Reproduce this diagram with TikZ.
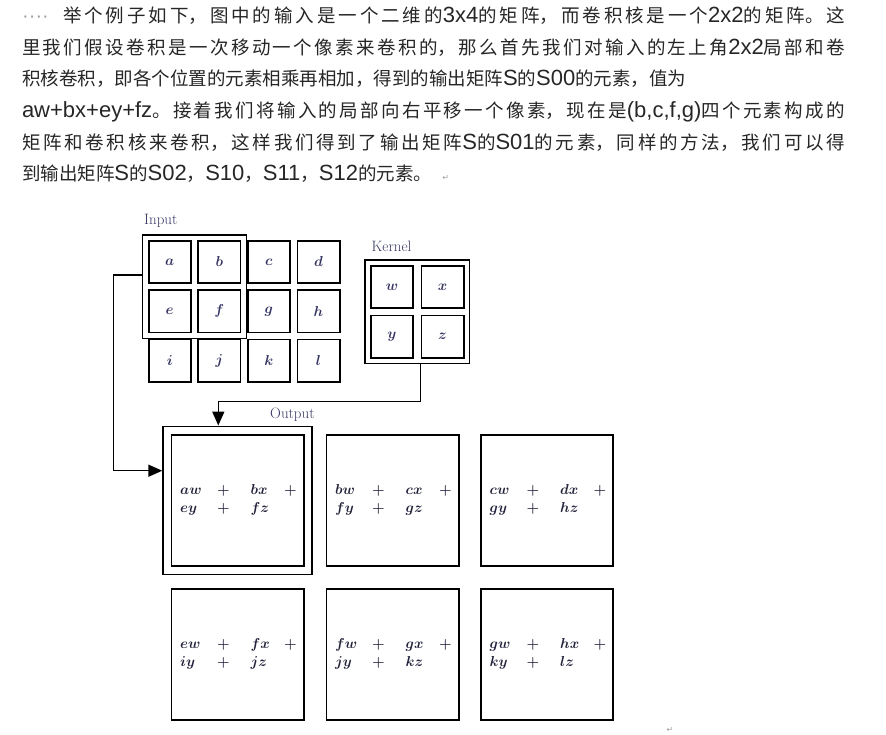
\documentclass[tikz,border=0pt]{standalone}
\usepackage{fontspec}
\usetikzlibrary{arrows.meta,fit,calc}
\newfontfamily\cjk{Noto Sans CJK SC}
\newfontfamily\latf{Liberation Sans}
\newfontfamily\symf{DejaVu Sans}
\definecolor{txt}{HTML}{262626}
\definecolor{lett}{RGB}{55,55,100}
\definecolor{otcol}{RGB}{35,35,60}
\definecolor{mark}{HTML}{A0A0A0}
\newcommand{\La}[1]{{\latf\fontsize{22pt}{31.6pt}\selectfont #1}}
\newcommand{\jline}[2]{\parbox[b]{#1}{\tolerance=9999\hbadness=10000\XeTeXlinebreaklocale "zh"\XeTeXlinebreakskip=0pt plus 10pt\relax\parfillskip=0pt\parindent=0pt\relax #2}}
\newcommand{\otext}[5]{%
 \node[otx,anchor=base west] (#1-a) at ($(#1.north west)+(9.5,61)$) {$#2$};
 \node[otx,anchor=base] (#1-p1) at ($(#1.north west)+(53,61)$) {$+$};
 \node[otx,anchor=base west] (#1-b) at ($(#1.north west)+(80,61)$) {$#3$};
 \node[otx,anchor=base] (#1-p2) at ($(#1.north west)+(120,61)$) {$+$};
 \node[otx,anchor=base west] (#1-c) at ($(#1.north west)+(9.5,79)$) {$#4$};
 \node[otx,anchor=base] (#1-p3) at ($(#1.north west)+(53,79)$) {$+$};
 \node[otx,anchor=base west] (#1-d) at ($(#1.north west)+(80,79)$) {$#5$};
}
\begin{document}
\begin{tikzpicture}[x=1pt,y=-1pt,
  tline/.style={inner sep=0pt,outer sep=0pt,text=txt,font=\cjk\fontsize{18.5pt}{31.6pt}\selectfont},
  dotsty/.style={inner sep=0pt,text=mark,font=\latf\fontsize{20pt}{24pt}\selectfont},
  cell/.style={draw,line width=1.8pt,minimum width=42.2pt,minimum height=42.2pt,inner sep=0pt,text=lett,font=\fontsize{15pt}{18pt}\selectfont\boldmath},
  win/.style={draw,line width=1.4pt,inner sep=5pt},
  obx/.style={draw,line width=1.8pt,minimum width=132.2pt,minimum height=131.7pt,inner sep=0pt},
  otx/.style={inner sep=0pt,text=otcol,font=\fontsize{15pt}{18pt}\selectfont\boldmath},
  lbl/.style={inner sep=0pt,text=lett,font=\fontsize{15pt}{18pt}\selectfont},
  conn/.style={line width=1.5pt,-{Triangle[length=14pt,width=12pt]}}]
\useasboundingbox (0,0) rectangle (886,735);
% ---------- text paragraph ----------
\node[dotsty,anchor=base west] (dots) at (22,22.8) {····};
\node[tline,anchor=base west] (l1) at (63,22.8) {\jline{782pt}{举个例子如下，图中的输入是一个二维的\La{3x4}的矩阵，而卷积核是一个\La{2x2}的矩阵。这}};
\node[tline,anchor=base west] (l2) at (22,54.4) {\jline{823pt}{里我们假设卷积是一次移动一个像素来卷积的，那么首先我们对输入的左上角\La{2x2}局部和卷}};
\node[tline,anchor=base west] (l3) at (22,86) {积核卷积，即各个位置的元素相乘再相加，得到的输出矩阵\La{S}的\La{S00}的元素，值为};
\node[tline,anchor=base west] (l4) at (22,117.6) {\jline{823pt}{\La{aw+bx+ey+fz}。接着我们将输入的局部向右平移一个像素，现在是\La{(b,c,f,g)}四个元素构成的}};
\node[tline,anchor=base west] (l5) at (22,149.2) {\jline{823pt}{矩阵和卷积核来卷积，这样我们得到了输出矩阵\La{S}的\La{S01}的元素，同样的方法，我们可以得}};
\node[tline,anchor=base west] (l6) at (22,180.8) {到输出矩阵\La{S}的\La{S02}，\La{S10}，\La{S11}，\La{S12}的元素。};
\node[inner sep=0pt,anchor=base west,text=mark,font=\symf\fontsize{8pt}{9pt}\selectfont] (ret) at (l6.base east) {\hspace{10pt}↵};
% ---------- input ----------
\node[lbl,anchor=base west] (inlbl) at (144,225) {Input};
\foreach \t [count=\i from 0] in {a,b,c,d,e,f,g,h,i,j,k,l}{
  \pgfmathtruncatemacro{\r}{int(\i/4)}
  \pgfmathtruncatemacro{\c}{mod(\i,4)}
  \node[cell] (in\t) at (169.7+49.6*\c, 262+49.3*\r) {$\t$};
}
\node[win,fit=(ina)(inf)] (iwin) {};
% ---------- kernel ----------
\node[lbl,anchor=base west] (klbl) at (371.5,251.5) {Kernel};
\node[cell] (kw) at (392,287) {$w$};
\node[cell] (kx) at (442.5,287) {$x$};
\node[cell] (ky) at (392,336.5) {$y$};
\node[cell] (kz) at (442.5,336.5) {$z$};
\node[win,fit=(kw)(kz)] (kwin) {};
% ---------- output ----------
\node[lbl,anchor=base west] (olbl) at (270,418) {Output};
\node[obx] (o1) at (237.5,500.5) {};
\node[obx] (o2) at (392.5,500.5) {};
\node[obx] (o3) at (547,500.5) {};
\node[obx] (o4) at (237.5,654.5) {};
\node[obx] (o5) at (392.5,654.5) {};
\node[obx] (o6) at (547,654.5) {};
\node[win,fit=(o1),inner sep=7.5pt] (owin) {};
\otext{o1}{aw}{bx}{ey}{fz}
\otext{o2}{bw}{cx}{fy}{gz}
\otext{o3}{cw}{dx}{gy}{hz}
\otext{o4}{ew}{fx}{iy}{jz}
\otext{o5}{fw}{gx}{jy}{kz}
\otext{o6}{gw}{hx}{ky}{lz}
% ---------- connectors ----------
\coordinate (kturn) at (218.3,401.7);
\draw[conn] (kz.west |- kwin.south) |- (kturn) -- (kturn |- owin.north);
\coordinate (iturn) at (113.3,470.7);
\draw[conn] ($(iwin.north west)!0.39!(iwin.south west)$) -| (iturn) -- (iturn -| owin.west);
% small cut-off mark at the bottom
\node[inner sep=0pt,anchor=north,text=mark,font=\symf\fontsize{8pt}{9pt}\selectfont] (ret2) at (670,727) {↵};
\end{tikzpicture}
\end{document}
